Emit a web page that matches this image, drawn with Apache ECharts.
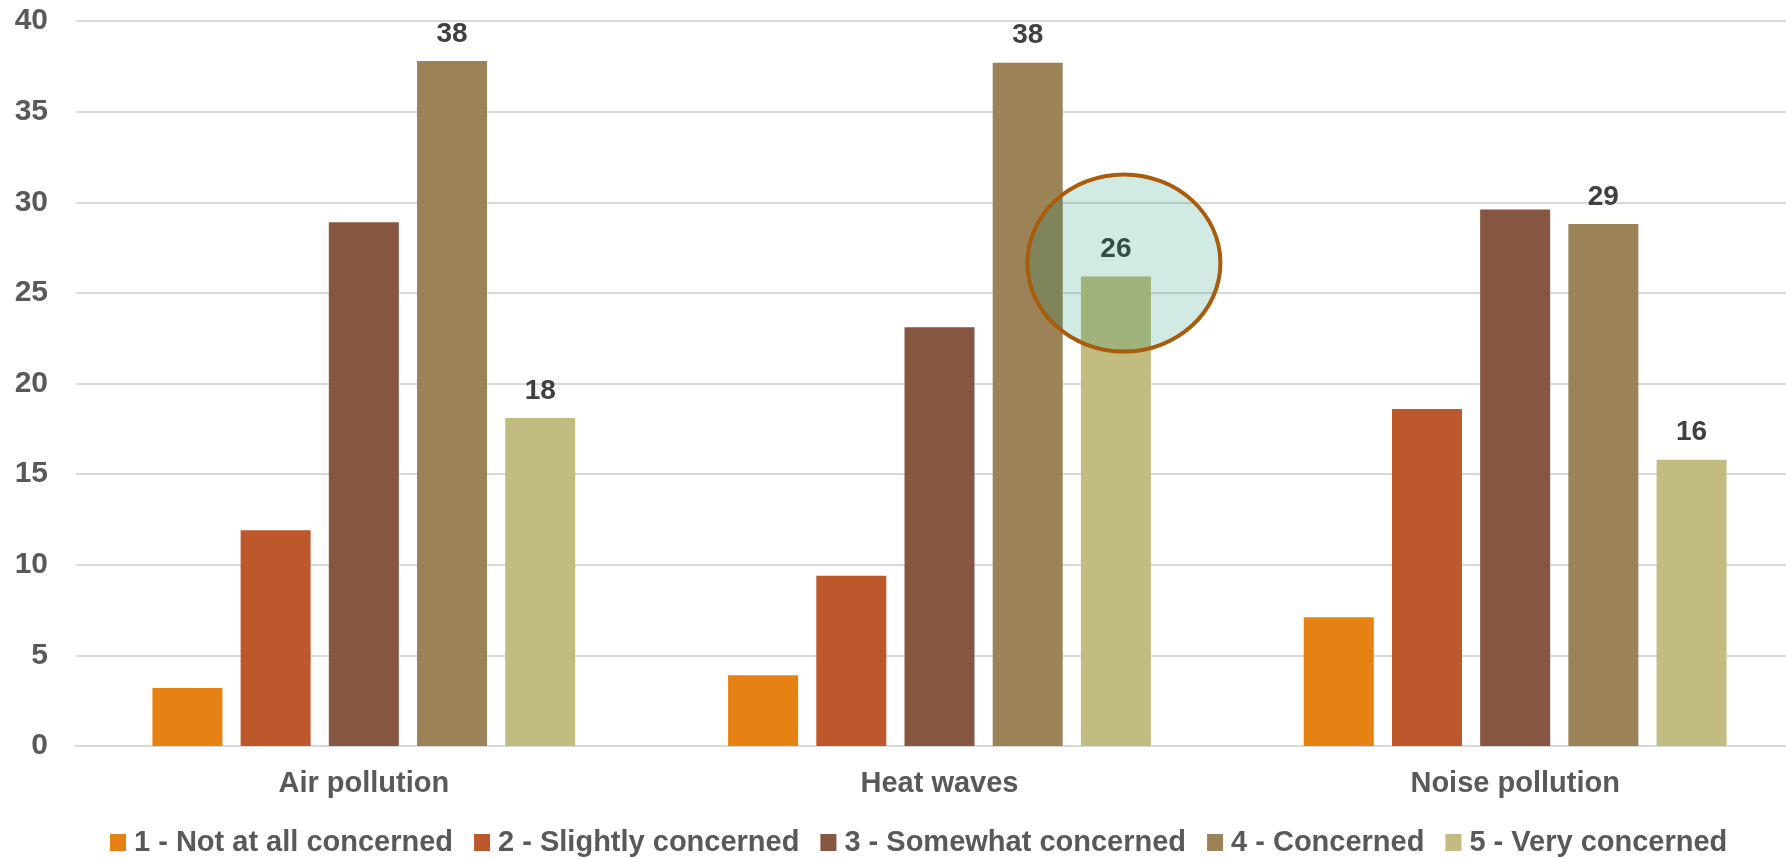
<!DOCTYPE html>
<html>
<head>
<meta charset="utf-8">
<script src="https://cdn.jsdelivr.net/npm/echarts@6/dist/echarts.min.js"></script>
<style>
  html, body { margin: 0; padding: 0; background: #ffffff; }
  #chart { width: 1786px; height: 859px; }
</style>
</head>
<body>
<div id="chart"></div>
<script>
// Survey: level of concern per environmental issue (%)
const categories = ['Air pollution', 'Heat waves', 'Noise pollution'];
const seriesNames = [
  '1 - Not at all concerned',
  '2 - Slightly concerned',
  '3 - Somewhat concerned',
  '4 - Concerned',
  '5 - Very concerned'
];
const notAtAll   = [3.2, 3.9, 7.1];
const slightly   = [11.9, 9.4, 18.6];
const somewhat   = [28.9, 23.1, 29.6];
const concerned  = [37.8, 37.7, 28.8];
const very       = [18.1, 25.9, 15.8];
const yTicks = { min: 0, max: 40, interval: 5 };

// Highlighted point: "Very concerned" about heat waves
const highlight = { series: 4, category: 1, valueOffset: 0.75 };

const colors = ['#E58213', '#BD582C', '#865640', '#9B8357', '#C2BC80'];
const labelled = [false, false, false, true, true];
const values = [notAtAll, slightly, somewhat, concerned, very];

const FONT = '"Liberation Sans", Arial, sans-serif';
const chart = echarts.init(document.getElementById('chart'), null, { renderer: 'canvas' });

const series = values.map((vals, i) => ({
  name: seriesNames[i],
  type: 'bar',
  data: vals,
  barWidth: 70,
  barGap: '26%',
  itemStyle: { color: colors[i] },
  label: {
    show: labelled[i],
    position: 'top',
    distance: 13,
    formatter: p => Math.round(p.value),
    color: '#404040',
    fontFamily: FONT,
    fontWeight: 'bold',
    fontSize: 28
  }
}));

chart.setOption({
  animation: false,
  backgroundColor: '#ffffff',
  color: colors,
  // plot area runs slightly past the right edge of the canvas
  grid: { left: 76, width: 1727, top: 21, bottom: 113, outerBoundsMode: 'none' },
  legend: {
    left: 105,
    top: 823,
    itemWidth: 16,
    itemHeight: 17,
    itemGap: 21,
    icon: 'rect',
    textStyle: {
      color: '#595959',
      fontFamily: FONT,
      fontWeight: 'bold',
      fontSize: 29,
      padding: [0, 0, 0, 3]
    },
    data: seriesNames
  },
  xAxis: {
    type: 'category',
    data: categories,
    axisLine: { show: true, lineStyle: { color: '#D9D9D9', width: 2 } },
    axisTick: { show: false },
    axisLabel: {
      margin: 23,
      color: '#595959',
      fontFamily: FONT,
      fontWeight: 'bold',
      fontSize: 29
    }
  },
  yAxis: {
    type: 'value',
    min: yTicks.min,
    max: yTicks.max,
    interval: yTicks.interval,
    axisLine: { show: false },
    axisTick: { show: false },
    splitLine: { lineStyle: { color: '#D9D9D9', width: 2 } },
    axisLabel: {
      margin: 28,
      color: '#595959',
      fontFamily: FONT,
      fontWeight: 'bold',
      fontSize: 30
    }
  },
  series: series
});

// Circle the highlighted bar, centred on its laid-out position
const layout = chart.getModel().getSeriesByIndex(highlight.series)
  .getData().getItemLayout(highlight.category);
const hv = values[highlight.series][highlight.category] + highlight.valueOffset;
const cy = chart.convertToPixel({ yAxisIndex: 0 }, hv);
const cx = layout.x + layout.width / 2 + 8;

chart.setOption({
  graphic: [{
    type: 'ellipse',
    z: 100,
    shape: { cx: cx, cy: cy, rx: 96.5, ry: 88.5 },
    style: {
      fill: 'rgba(5,139,105,0.18)',
      stroke: '#A85C0C',
      lineWidth: 4
    }
  }]
});
</script>
</body>
</html>
